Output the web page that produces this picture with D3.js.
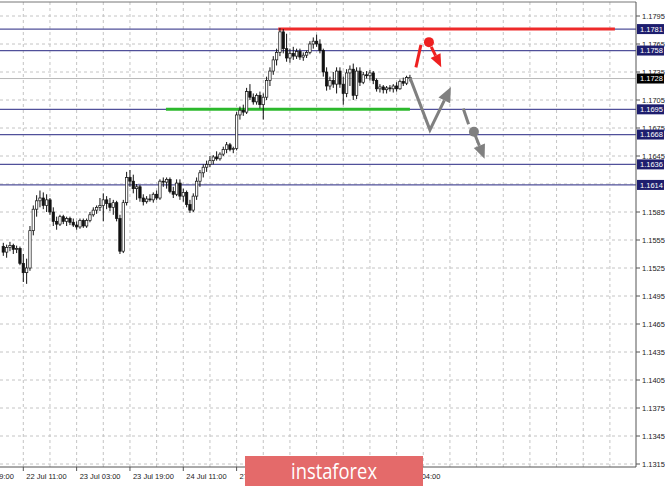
<!DOCTYPE html>
<html><head><meta charset="utf-8">
<script src="https://cdn.jsdelivr.net/npm/d3@7"></script>
<style>html,body{margin:0;padding:0;background:#fff;}svg{display:block;}</style>
</head><body>
<svg id="c" width="665" height="486"></svg>
<script>
// ---- data ----
const openP = [1.1548,1.1542,1.1547,1.1549,1.1545,1.1546,1.1530,1.1520,1.1525,1.1565,1.1588,1.1597,1.1600,1.1592,1.1598,1.1585,1.1575,1.1572,1.1580,1.1575,1.1578,1.1574,1.1571,1.1569,1.1576,1.1570,1.1576,1.1582,1.1587,1.1590,1.1592,1.1598,1.1594,1.1590,1.1595,1.1578,1.1543,1.1595,1.1622,1.1618,1.1610,1.1612,1.1600,1.1596,1.1599,1.1598,1.1604,1.1600,1.1618,1.1617,1.1620,1.1607,1.1604,1.1616,1.1602,1.1606,1.1593,1.1587,1.1602,1.1618,1.1627,1.1633,1.1636,1.1640,1.1644,1.1642,1.1647,1.1652,1.1657,1.1652,1.1653,1.1689,1.1694,1.1692,1.1714,1.1708,1.1703,1.1710,1.1700,1.1708,1.1726,1.1736,1.1748,1.1756,1.1778,1.1760,1.1750,1.1755,1.1752,1.1757,1.1751,1.1753,1.1756,1.1765,1.1768,1.1765,1.1758,1.1735,1.1720,1.1726,1.1722,1.1736,1.1722,1.1712,1.1734,1.1738,1.1710,1.1736,1.1724,1.1732,1.1731,1.1734,1.1726,1.1717,1.1719,1.1716,1.1718,1.1717,1.1720,1.1717,1.1725,1.1723,1.1729];
const highP = [1.1552,1.1550,1.1553,1.1551,1.1549,1.1548,1.1540,1.1535,1.1570,1.1592,1.1603,1.1608,1.1606,1.1604,1.1600,1.1590,1.1580,1.1582,1.1582,1.1580,1.1580,1.1578,1.1575,1.1578,1.1578,1.1578,1.1585,1.1590,1.1592,1.1600,1.1605,1.1602,1.1600,1.1598,1.1597,1.1582,1.1598,1.1628,1.1630,1.1625,1.1615,1.1614,1.1604,1.1602,1.1604,1.1606,1.1608,1.1620,1.1622,1.1622,1.1622,1.1612,1.1620,1.1620,1.1610,1.1608,1.1598,1.1605,1.1622,1.1630,1.1636,1.1640,1.1645,1.1646,1.1650,1.1649,1.1655,1.1660,1.1659,1.1655,1.1692,1.1698,1.1700,1.1718,1.1722,1.1712,1.1712,1.1714,1.1712,1.1730,1.1740,1.1752,1.1760,1.1782,1.1781,1.1776,1.1760,1.1762,1.1760,1.1760,1.1756,1.1758,1.1768,1.1772,1.1775,1.1770,1.1760,1.1740,1.1730,1.1735,1.1740,1.1740,1.1730,1.1738,1.1742,1.1744,1.1740,1.1740,1.1735,1.1736,1.1737,1.1736,1.1728,1.1722,1.1721,1.1720,1.1721,1.1722,1.1724,1.1727,1.1729,1.1731,1.1732];
const lowP = [1.1538,1.1536,1.1543,1.1540,1.1541,1.1528,1.1510,1.1508,1.1522,1.1560,1.1580,1.1590,1.1588,1.1585,1.1582,1.1570,1.1566,1.1570,1.1572,1.1570,1.1571,1.1569,1.1566,1.1567,1.1568,1.1568,1.1574,1.1580,1.1583,1.1586,1.1575,1.1588,1.1586,1.1582,1.1575,1.1540,1.1541,1.1592,1.1612,1.1605,1.1598,1.1596,1.1592,1.1594,1.1596,1.1595,1.1598,1.1598,1.1612,1.1610,1.1605,1.1600,1.1602,1.1598,1.1596,1.1590,1.1584,1.1585,1.1598,1.1612,1.1622,1.1628,1.1633,1.1636,1.1640,1.1640,1.1645,1.1648,1.1650,1.1648,1.1651,1.1684,1.1688,1.1690,1.1705,1.1700,1.1700,1.1696,1.1684,1.1705,1.1720,1.1732,1.1742,1.1752,1.1755,1.1746,1.1745,1.1748,1.1749,1.1748,1.1747,1.1750,1.1754,1.1760,1.1762,1.1755,1.1730,1.1715,1.1716,1.1718,1.1712,1.1718,1.1700,1.1708,1.1720,1.1705,1.1706,1.1720,1.1722,1.1728,1.1726,1.1722,1.1714,1.1713,1.1712,1.1712,1.1714,1.1713,1.1714,1.1716,1.1720,1.1721,1.1725];
const closeP = [1.1542,1.1547,1.1549,1.1545,1.1546,1.1530,1.1520,1.1525,1.1565,1.1588,1.1597,1.1600,1.1592,1.1598,1.1585,1.1575,1.1572,1.1580,1.1575,1.1578,1.1574,1.1571,1.1569,1.1576,1.1570,1.1576,1.1582,1.1587,1.1590,1.1592,1.1598,1.1594,1.1590,1.1595,1.1578,1.1543,1.1595,1.1622,1.1618,1.1610,1.1612,1.1600,1.1596,1.1599,1.1598,1.1604,1.1600,1.1618,1.1617,1.1620,1.1607,1.1604,1.1616,1.1602,1.1606,1.1593,1.1587,1.1602,1.1618,1.1627,1.1633,1.1636,1.1640,1.1644,1.1642,1.1647,1.1652,1.1657,1.1652,1.1653,1.1689,1.1694,1.1692,1.1714,1.1708,1.1703,1.1710,1.1700,1.1708,1.1726,1.1736,1.1748,1.1756,1.1778,1.1760,1.1750,1.1755,1.1752,1.1757,1.1751,1.1753,1.1756,1.1765,1.1768,1.1765,1.1758,1.1735,1.1720,1.1726,1.1722,1.1736,1.1722,1.1712,1.1734,1.1738,1.1710,1.1736,1.1724,1.1732,1.1731,1.1734,1.1726,1.1717,1.1719,1.1716,1.1718,1.1717,1.1720,1.1717,1.1725,1.1723,1.1729,1.1728];

const priceTicks = [1.1795,1.1765,1.1735,1.1705,1.1675,1.1645,1.1585,1.1555,1.1525,1.1495,1.1465,1.1435,1.1405,1.1375,1.1345,1.1315];
const timeLabels = ["21 Jul 19:00","22 Jul 11:00","23 Jul 03:00","23 Jul 19:00","24 Jul 11:00","27 Jul 03:00","29 Jul 04:00"];
const timeLabelBars = [-10,6,22,38,54,70,118];

const levels = [1.1781,1.1758,1.1695,1.1668,1.1636,1.1614];
const bidPrice = 1.1728;

// annotation lines: [barStart, barEnd, price]
const resistanceLine = [82.5, 183.5, 1.1781];
const supportLine = [48.8, 122, 1.1695];
// forecast paths [bar, price]
const redStroke = [[123.8,1.1740],[125.3,1.1764]];
const redDot = [127.7,1.1767];
const redArrow = [[128.4,1.1762],[131.4,1.1740]];
const grayPath = [[122,1.1729],[128,1.1673],[134.3,1.1719]];
const grayStroke = [[138,1.1696],[139.6,1.1679]];
const grayDot = [141.2,1.1671];
const grayArrow = [[141.6,1.1667],[144.4,1.1642]];

// ---- layout ----
const svg = d3.select("#c");
const plotL = 0, plotR = 636, plotT = 2, plotB = 467;
const barW = 3.333;
const x = d3.scaleLinear().domain([0, 190]).range([3.3, 3.3 + 190*barW]);
const y = d3.scaleLinear().domain([1.1315, 1.1795]).range([464, 16]);
const font = "'Liberation Sans', Arial, sans-serif";

// grid
const gridBars = d3.range(6, 190, 8);
svg.append("g").selectAll("line").data(gridBars).join("line")
  .attr("x1", d => x(d)).attr("x2", d => x(d)).attr("y1", plotT).attr("y2", plotB)
  .attr("stroke", "#c4c4c4").attr("stroke-width", 1).attr("stroke-dasharray", "3,3");
svg.append("g").selectAll("line").data(priceTicks.concat([1.1615])).join("line")
  .attr("x1", plotL).attr("x2", plotR).attr("y1", d => y(d)).attr("y2", d => y(d))
  .attr("stroke", "#c4c4c4").attr("stroke-width", 1).attr("stroke-dasharray", "3,3");

// bid line
svg.append("line").attr("x1", plotL).attr("x2", plotR).attr("y1", y(bidPrice)).attr("y2", y(bidPrice))
  .attr("stroke", "#b8b8b8").attr("stroke-width", 1);

// level lines
svg.append("g").selectAll("line").data(levels).join("line")
  .attr("x1", plotL).attr("x2", plotR).attr("y1", d => y(d)).attr("y2", d => y(d))
  .attr("stroke", "#50509a").attr("stroke-width", 1.3);

// resistance / support
svg.append("line").attr("x1", x(resistanceLine[0])).attr("x2", x(resistanceLine[1]))
  .attr("y1", y(resistanceLine[2])).attr("y2", y(resistanceLine[2]))
  .attr("stroke", "#ee2a2a").attr("stroke-width", 3);
svg.append("line").attr("x1", x(supportLine[0])).attr("x2", x(supportLine[1]))
  .attr("y1", y(supportLine[2])).attr("y2", y(supportLine[2]))
  .attr("stroke", "#2cb82c").attr("stroke-width", 3);

// candles
const candles = openP.map((o, i) => ({i, o, h: highP[i], l: lowP[i], c: closeP[i]}));
const cg = svg.append("g");
cg.selectAll("line").data(candles).join("line")
  .attr("x1", d => x(d.i)).attr("x2", d => x(d.i))
  .attr("y1", d => y(d.h)).attr("y2", d => y(d.l))
  .attr("stroke", "#111").attr("stroke-width", 1);
cg.selectAll("rect").data(candles).join("rect")
  .attr("x", d => x(d.i) - 1.2).attr("width", 2.4)
  .attr("y", d => y(Math.max(d.o, d.c)))
  .attr("height", d => Math.max(0.8, Math.abs(y(d.o) - y(d.c))))
  .attr("fill", d => d.c >= d.o ? "#fff" : "#111")
  .attr("stroke", "#111").attr("stroke-width", 0.7);

// arrows
const line = d3.line().x(d => x(d[0])).y(d => y(d[1]));
function arrowHead(p0, p1, color, len, wid) {
  const x0 = x(p0[0]), y0 = y(p0[1]), x1 = x(p1[0]), y1 = y(p1[1]);
  const a = Math.atan2(y1 - y0, x1 - x0);
  const bx = x1 - len*Math.cos(a), by = y1 - len*Math.sin(a);
  const pts = [[x1, y1], [bx + wid/2*Math.sin(a), by - wid/2*Math.cos(a)], [bx - wid/2*Math.sin(a), by + wid/2*Math.cos(a)]];
  svg.append("polygon").attr("points", pts.map(p => p.join(",")).join(" ")).attr("fill", color);
  return [bx, by];
}
function arrow(pts, color, len, wid) {
  const n = pts.length;
  const [bx, by] = arrowHead(pts[n-2], pts[n-1], color, len, wid);
  const px = pts.map(p => [x(p[0]), y(p[1])]);
  px[n-1] = [bx, by];
  svg.append("path").attr("d", d3.line()(px)).attr("fill", "none").attr("stroke", color)
    .attr("stroke-width", 3).attr("stroke-linejoin", "miter");
}
const red = "#ee2020", gray = "#808080";
svg.append("path").attr("d", line(redStroke)).attr("stroke", red).attr("stroke-width", 3).attr("fill", "none");
svg.append("circle").attr("cx", x(redDot[0])).attr("cy", y(redDot[1])).attr("r", 5).attr("fill", red);
arrow(redArrow, red, 13, 11);
arrow(grayPath, gray, 15, 13);
svg.append("path").attr("d", line(grayStroke)).attr("stroke", gray).attr("stroke-width", 3).attr("fill", "none");
svg.append("circle").attr("cx", x(grayDot[0])).attr("cy", y(grayDot[1])).attr("r", 5).attr("fill", gray);
arrow(grayArrow, gray, 14, 12);

// frame
svg.append("line").attr("x1", plotL).attr("x2", plotR).attr("y1", plotT).attr("y2", plotT).attr("stroke", "#777");
svg.append("line").attr("x1", plotR).attr("x2", plotR).attr("y1", plotT).attr("y2", plotB).attr("stroke", "#555");
svg.append("line").attr("x1", plotL).attr("x2", plotR).attr("y1", plotB).attr("y2", plotB).attr("stroke", "#555");

// y axis ticks & labels
const yt = svg.append("g");
yt.selectAll("line").data(priceTicks).join("line")
  .attr("x1", plotR).attr("x2", plotR + 4).attr("y1", d => y(d)).attr("y2", d => y(d)).attr("stroke", "#555");
yt.selectAll("text").data(priceTicks).join("text")
  .attr("x", plotR + 6).attr("y", d => y(d)).attr("dy", "0.35em")
  .attr("font-family", font).attr("font-size", 7.5).attr("fill", "#222")
  .text(d => d.toFixed(4));

// level labels
const lg = svg.append("g");
const boxes = levels.map(v => ({v, fill: "#1e1e6e"})).concat([{v: bidPrice, fill: "#000"}]);
lg.selectAll("rect").data(boxes).join("rect")
  .attr("x", plotR + 1).attr("y", d => y(d.v) - 5).attr("width", 27).attr("height", 10)
  .attr("fill", d => d.fill);
lg.selectAll("text").data(boxes).join("text")
  .attr("x", plotR + 4).attr("y", d => y(d.v)).attr("dy", "0.35em")
  .attr("font-family", font).attr("font-size", 7.5).attr("fill", "#fff")
  .text(d => d.v.toFixed(4));

// x axis ticks & labels
const xt = svg.append("g");
xt.selectAll("line").data(timeLabelBars).join("line")
  .attr("x1", d => x(d)).attr("x2", d => x(d)).attr("y1", plotB).attr("y2", plotB + 4).attr("stroke", "#555");
xt.selectAll("text").data(timeLabels).join("text")
  .attr("x", (d, i) => x(timeLabelBars[i]) + 3).attr("y", 479)
  .attr("font-family", font).attr("font-size", 7.5).attr("fill", "#222")
  .text(d => d);

// logo
svg.append("rect").attr("x", 245).attr("y", 456).attr("width", 178).attr("height", 30).attr("fill", "#e46a6a");
svg.append("text").attr("x", 334).attr("y", 471).attr("dy", "0.35em").attr("text-anchor", "middle")
  .attr("font-family", "'Open Sans', sans-serif").attr("font-size", 22).attr("fill", "#fff")
  .attr("textLength", 86).attr("lengthAdjust", "spacingAndGlyphs")
  .text("instaforex");
</script>
</body></html>
